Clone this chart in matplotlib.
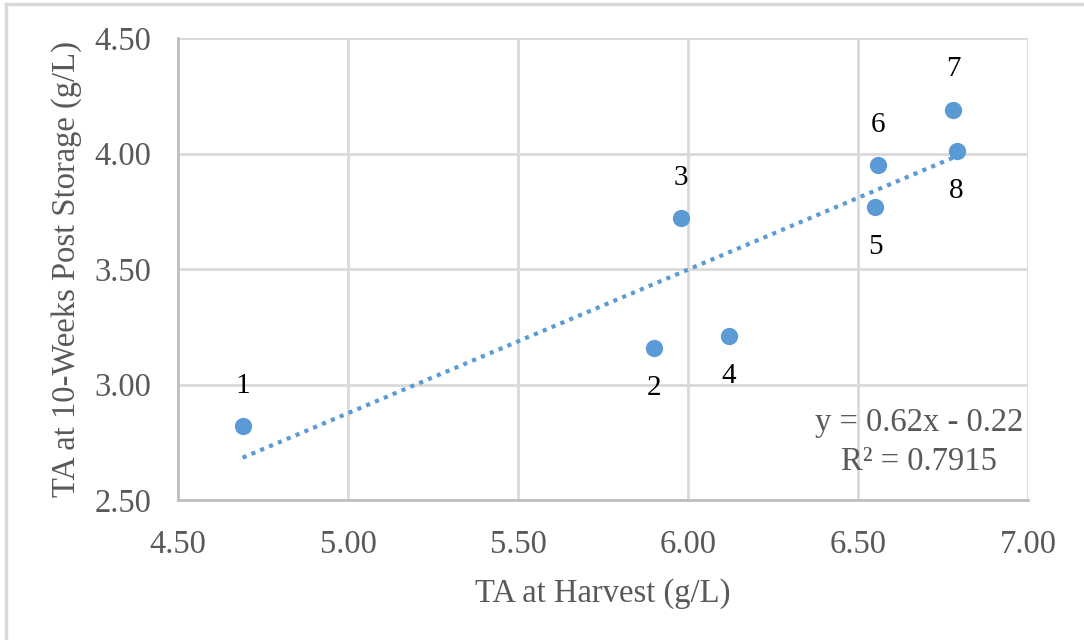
import numpy as np
import matplotlib.pyplot as plt
from matplotlib.lines import Line2D

# TA values
samples = ['1', '2', '3', '4', '5', '6', '7', '8']
ta_harvest = [4.69, 5.90, 5.98, 6.12, 6.55, 6.56, 6.78, 6.79]
ta_storage = [2.82, 3.16, 3.72, 3.21, 3.77, 3.95, 4.19, 4.01]
label_above = [True, False, True, False, False, True, True, False]

plt.rcParams['font.family'] = ['Liberation Serif', 'DejaVu Serif']

fig = plt.figure(figsize=(10.84, 6.4), dpi=100)
ax = fig.add_axes([178 / 1084, 140 / 640, 850 / 1084, 462 / 640])

blue = '#5b9bd5'
grey_text = '#595959'
grid_col = '#d9d9d9'
fs = 23.5

ax.scatter(ta_harvest, ta_storage, s=155, color=blue, zorder=3, linewidths=0)

# linear trendline
slope, intercept = np.polyfit(ta_harvest, ta_storage, 1)
xs = np.array([min(ta_harvest), max(ta_harvest)])
ax.plot(xs, slope * xs + intercept, linestyle=(0, (1, 1.3)), color=blue, lw=3, zorder=2)

for name, x, y, up in zip(samples, ta_harvest, ta_storage, label_above):
    ax.annotate(name, (x, y), xytext=(0, 29 if up else -29), textcoords='offset points',
                ha='center', va='center', fontsize=21, color='black')

ax.text(0.994, 0.125, 'y = 0.62x - 0.22\nR² = 0.7915', transform=ax.transAxes,
        ha='right', va='center', multialignment='center', fontsize=fs,
        color=grey_text, linespacing=1.4)

ax.set_xlim(4.5, 7.0)
ax.set_ylim(2.5, 4.5)
ax.set_xticks(np.arange(4.5, 7.01, 0.5))
ax.set_yticks(np.arange(2.5, 4.51, 0.5))
ax.xaxis.set_major_formatter(plt.FormatStrFormatter('%.2f'))
ax.yaxis.set_major_formatter(plt.FormatStrFormatter('%.2f'))
ax.tick_params(length=0, labelsize=fs, labelcolor=grey_text)
ax.tick_params(axis='y', pad=19)
ax.tick_params(axis='x', pad=21)
ax.grid(True, color=grid_col, lw=2)
ax.set_axisbelow(True)
for side in ['top', 'right']:
    ax.spines[side].set_visible(False)
for side in ['left', 'bottom']:
    ax.spines[side].set_color('#bfbfbf')
    ax.spines[side].set_linewidth(2)

ax.set_xlabel('TA at Harvest (g/L)', fontsize=fs, color=grey_text, labelpad=13)
ax.set_ylabel('TA at 10-Weeks Post Storage (g/L)', fontsize=fs, color=grey_text, labelpad=9)

# outer chart frame
fig.add_artist(Line2D([6 / 1084, 1], [1 - 4 / 640, 1 - 4 / 640], color=grid_col, lw=2.5))
fig.add_artist(Line2D([6 / 1084, 6 / 1084], [0, 1 - 4 / 640], color=grid_col, lw=2.5))

fig.savefig('out.png', dpi=100)
